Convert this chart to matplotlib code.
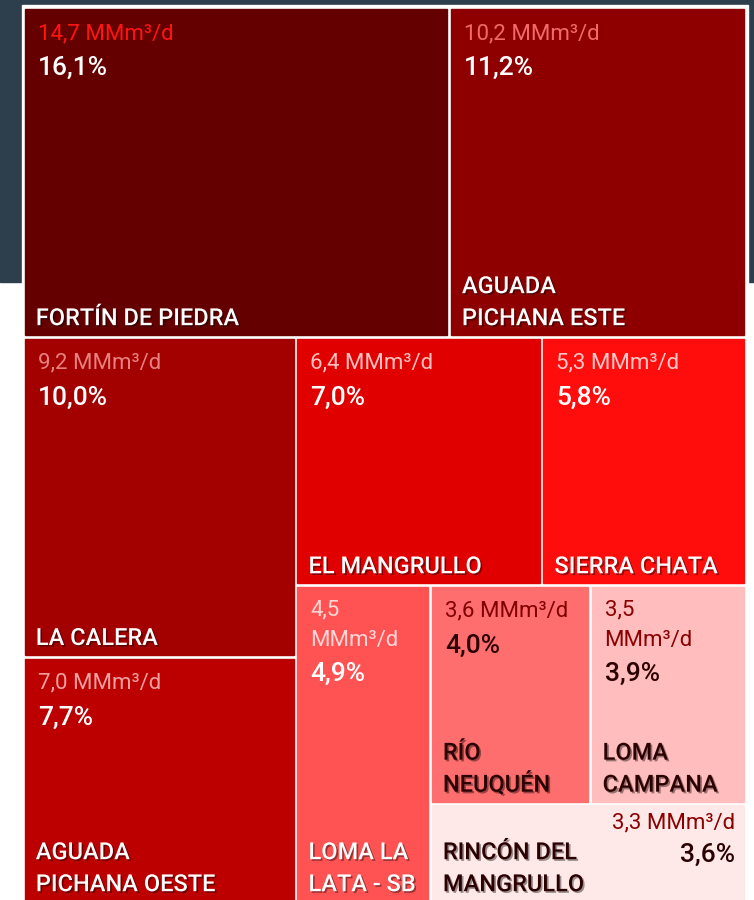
import matplotlib
matplotlib.use('Agg')
import matplotlib.pyplot as plt
import matplotlib.patheffects as pe
from matplotlib.patches import Rectangle

plt.rcParams['font.family'] = ['Roboto', 'DejaVu Sans']

# datos
campos = ['FORTÍN DE PIEDRA', 'AGUADA\nPICHANA ESTE', 'LA CALERA', 'AGUADA\nPICHANA OESTE',
          'EL MANGRULLO', 'SIERRA CHATA', 'LOMA LA\nLATA - SB', 'RÍO\nNEUQUÉN',
          'LOMA\nCAMPANA', 'RINCÓN DEL\nMANGRULLO']
produccion = [14.7, 10.2, 9.2, 7.0, 6.4, 5.3, 4.5, 3.6, 3.5, 3.3]   # MMm3/d
porcentaje = [16.1, 11.2, 10.0, 7.7, 7.0, 5.8, 4.9, 4.0, 3.9, 3.6]  # %

# colores
fondo = ['#650000', '#8e0000', '#a30000', '#bc0000', '#e10000',
         '#ff0c0c', '#ff5252', '#ff6e6e', '#ffbdbd', '#ffe8e8']
col_valor = ['#ff1414', '#f06a6a', '#e88080', '#f0a0a0', '#ffc0c0',
             '#ffc8c8', '#ffd6d6', '#800000', '#8b0000', '#8b0000']
col_texto = ['white'] * 7 + ['#2a0000'] * 3

# estructura del treemap (v = apilado vertical, h = lado a lado)
arbol = ('v', [('h', [0, 1]),
               ('h', [('v', [2, 3]),
                      ('v', [('h', [4, 5]),
                             ('h', [6, ('v', [('h', [7, 8]), 9])])])])])
envolver = {6, 8}       # valor en dos lineas
derecha = {9}           # valor alineado a la derecha


def total(nodo):
    if isinstance(nodo, int):
        return porcentaje[nodo]
    return sum(total(n) for n in nodo[1])


def ubicar(nodo, x0, y0, x1, y1, rects):
    if isinstance(nodo, int):
        rects[nodo] = (x0, y0, x1, y1)
        return
    d, hijos = nodo
    t = total(nodo)
    pos = x0 if d == 'h' else y0
    for h in hijos:
        frac = total(h) / t
        if d == 'h':
            w = (x1 - x0) * frac
            ubicar(h, pos, y0, pos + w, y1, rects)
        else:
            w = (y1 - y0) * frac
            ubicar(h, x0, pos, x1, pos + w, rects)
        pos += w


fig = plt.figure(figsize=(7.54, 9.0), dpi=100)
ax = fig.add_axes([0, 0, 1, 1])
ax.set_xlim(0, 754)
ax.set_ylim(900, 0)
ax.axis('off')

# fondo oscuro arriba y marco blanco
ax.add_patch(Rectangle((0, 0), 754, 282, color='#2d3e4c', zorder=0))
ax.add_patch(Rectangle((22, 5), 726, 910, color='white', zorder=1))

rects = {}
ubicar(arbol, 23, 7.5, 745.5, 903, rects)

g = 1.8
fs_val, fs_pct, fs_lab = 16, 19, 17
sombra = [pe.withSimplePatchShadow(offset=(1.2, -1.2), shadow_rgbFace='black', alpha=0.4)]
for i in range(len(campos)):
    x0, y0, x1, y1 = rects[i]
    x0, y0, x1, y1 = x0 + g, y0 + g, x1 - g, y1 - g
    ax.add_patch(Rectangle((x0, y0), x1 - x0, y1 - y0, color=fondo[i], zorder=2))

    num = f"{produccion[i]:.1f}".replace('.', ',')
    pct = f"{porcentaje[i]:.1f}".replace('.', ',') + '%'
    px = x0 + 13
    if i in derecha:
        ax.text(x1 - 9, y0 + 23, num + ' MMm³/d', color=col_valor[i], fontsize=fs_val,
                ha='right', va='baseline', zorder=3)
        ax.text(x1 - 9, y0 + 57, pct, color=col_texto[i], fontsize=fs_pct,
                fontweight='medium', ha='right', va='baseline', zorder=3)
    elif i in envolver:
        ax.text(px, y0 + 29, num, color=col_valor[i], fontsize=fs_val, va='baseline', zorder=3)
        ax.text(px, y0 + 59, 'MMm³/d', color=col_valor[i], fontsize=fs_val, va='baseline', zorder=3)
        ax.text(px, y0 + 94, pct, color=col_texto[i], fontsize=fs_pct, fontweight='medium',
                va='baseline', zorder=3)
    else:
        ax.text(px, y0 + 30, num + ' MMm³/d', color=col_valor[i], fontsize=fs_val,
                va='baseline', zorder=3)
        ax.text(px, y0 + 66, pct, color=col_texto[i], fontsize=fs_pct, fontweight='medium',
                va='baseline', zorder=3)

    lineas = campos[i].split('\n')
    for k, ln in enumerate(reversed(lineas)):
        ax.text(x0 + 11, y1 - 10 - 32 * k, ln, color=col_texto[i], fontsize=fs_lab,
                fontweight='medium', va='baseline', zorder=3, path_effects=sombra)

plt.savefig('out.png', dpi=100)
